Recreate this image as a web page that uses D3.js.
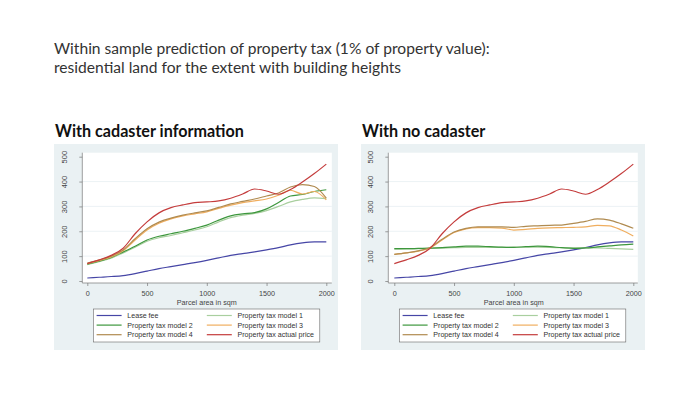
<!DOCTYPE html>
<html>
<head>
<meta charset="utf-8">
<script src="https://cdn.jsdelivr.net/npm/d3@7"></script>
<style>
  body { margin: 0; background: #fff; }
  svg { display: block; }
</style>
</head>
<body>
<div id="chart"></div>
<script>
const width = 700;
const height = 393;

// parcel area (sqm) where the curves were read
const parcelArea = [0, 100, 200, 300, 400, 500, 600, 700, 800, 900, 1000,
    1100, 1200, 1300, 1400, 1500, 1600, 1700, 1800, 1900, 2000];
const xTicks = [0, 500, 1000, 1500, 2000];
const yTicks = [0, 100, 200, 300, 400, 500];
const gridTicks = [100, 200, 300, 400];

// same in both panels
const leaseFee = [12, 15, 18, 22, 30, 40, 50, 58, 66, 74, 83, 93, 103, 110, 117, 125, 134, 145, 153, 157, 157];
const actualPrice = [70, 85, 103, 132, 190, 238, 274, 295, 306, 315, 318, 322, 333, 350, 370, 362, 349, 368, 398, 432, 470];

// with cadaster information
const cadModel1 = [66, 78, 92, 113, 136, 160, 174, 183, 194, 205, 218, 238, 255, 265, 272, 283, 300, 318, 328, 334, 331];
const cadModel2 = [68, 80, 95, 117, 140, 165, 180, 190, 200, 212, 225, 245, 262, 270, 275, 290, 316, 342, 348, 360, 367];
const cadModel3 = [70, 82, 97, 122, 165, 205, 232, 250, 262, 270, 278, 292, 305, 315, 322, 330, 345, 365, 350, 360, 326];
const cadModel4 = [72, 84, 100, 125, 170, 210, 237, 253, 265, 274, 282, 296, 310, 320, 330, 342, 354, 378, 388, 380, 333];

// with no cadaster
const noCadModel1 = [128, 129, 130, 131, 132, 134, 135, 135, 135, 135, 136, 136, 136, 135, 134, 133, 133, 133, 131, 129, 127];
const noCadModel2 = [130, 130, 131, 132, 134, 137, 140, 140, 138, 136, 135, 138, 140, 138, 134, 131, 133, 137, 141, 145, 148];
const noCadModel3 = [107, 113, 120, 133, 165, 195, 210, 215, 215, 213, 205, 208, 212, 214, 215, 216, 218, 224, 222, 205, 181];
const noCadModel4 = [107, 113, 121, 135, 168, 197, 212, 218, 218, 218, 216, 220, 222, 224, 225, 232, 240, 250, 245, 230, 212];

const seriesNames = ['Lease fee', 'Property tax model 1', 'Property tax model 2',
    'Property tax model 3', 'Property tax model 4', 'Property tax actual price'];
const seriesColors = ['#4646a6', '#a9cf9f', '#3d973d', '#f0ae5f', '#b08b50', '#c43c3c'];

const svg = d3.select('#chart')
    .append('svg')
    .attr('width', width)
    .attr('height', height)
    .attr('viewBox', `0 0 ${width} ${height}`);

// shrink/grow a text until it is as wide as the slide shows it
function fitText(sel, target) {
    const w = sel.node().getComputedTextLength();
    const fs = parseFloat(sel.style('font-size'));
    sel.style('font-size', (fs * target / w) + 'px');
}

const title1 = svg.append('text')
    .attr('x', 54).attr('y', 54)
    .style('font-family', 'Lato, "Open Sans", sans-serif')
    .style('font-weight', 400)
    .style('font-size', '19px')
    .style('fill', '#333')
    .text('Within sample prediction of property tax (1% of property value):');
fitText(title1, 436);

svg.append('text')
    .attr('x', 54).attr('y', 73)
    .style('font-family', 'Lato, "Open Sans", sans-serif')
    .style('font-weight', 400)
    .style('font-size', title1.style('font-size'))
    .style('fill', '#333')
    .text('residential land for the extent with building heights');

const panels = [
    { title: 'With cadaster information', left: 54, plotLeft: 82.3, x0: 87.3,
      series: [leaseFee, cadModel1, cadModel2, cadModel3, cadModel4, actualPrice] },
    { title: 'With no cadaster', left: 361, plotLeft: 388.3, x0: 394.3,
      series: [leaseFee, noCadModel1, noCadModel2, noCadModel3, noCadModel4, actualPrice] }
];

let subSize = null;
panels.forEach(p => {
    const sub = svg.append('text')
        .attr('x', p.left + 1).attr('y', 137)
        .style('font-family', 'Lato, "Open Sans", sans-serif')
        .style('font-weight', 'bold')
        .style('font-size', '14px')
        .style('fill', '#111')
        .text(p.title);
    if (subSize === null) {
        fitText(sub, 189);
        subSize = sub.style('font-size');
    } else {
        sub.style('font-size', subSize);
    }
    drawPanel(p);
});

function drawPanel(p) {
    const top = 152.7;
    const bottom = 283;
    const plotRight = p.plotLeft + 249.5;

    const g = svg.append('g')
        .style('font-family', '"Liberation Sans", Arial, sans-serif');

    g.append('rect')
        .attr('x', p.left).attr('y', 144)
        .attr('width', 284).attr('height', 206)
        .attr('fill', '#eaf1f3');

    g.append('rect')
        .attr('x', p.plotLeft).attr('y', top)
        .attr('width', plotRight - p.plotLeft).attr('height', bottom - top)
        .attr('fill', '#ffffff');

    const xScale = d3.scaleLinear().domain([0, 2000]).range([p.x0, p.x0 + 239]);
    const yScale = d3.scaleLinear().domain([0, 500]).range([281, 156.7]);

    // grid
    g.append('g')
        .selectAll('line')
        .data(gridTicks)
        .join('line')
        .attr('x1', p.plotLeft).attr('x2', plotRight)
        .attr('y1', d => yScale(d)).attr('y2', d => yScale(d))
        .attr('stroke', '#e7eff2')
        .attr('stroke-width', 0.8);

    // y axis
    const yAxis = d3.axisLeft(yScale).tickValues(yTicks).tickSize(3).tickFormat(d3.format('d'));
    const ya = g.append('g')
        .attr('transform', `translate(${p.plotLeft}, 0)`)
        .call(yAxis);
    ya.select('.domain').remove();
    ya.selectAll('line').attr('stroke', '#777').attr('stroke-width', 0.7);
    ya.selectAll('text')
        .attr('x', null).attr('dy', null)
        .attr('text-anchor', 'middle')
        .attr('transform', 'translate(-15.8, 0) rotate(-90)')
        .style('font-size', '7.5px')
        .style('fill', '#444');
    g.append('line')
        .attr('x1', p.plotLeft).attr('x2', p.plotLeft)
        .attr('y1', top).attr('y2', bottom)
        .attr('stroke', '#777').attr('stroke-width', 0.7);

    // x axis
    const xAxis = d3.axisBottom(xScale).tickValues(xTicks).tickSize(3).tickPadding(5)
        .tickFormat(d3.format('d'));
    const xa = g.append('g')
        .attr('transform', `translate(0, ${bottom})`)
        .call(xAxis);
    xa.select('.domain').remove();
    xa.selectAll('line').attr('stroke', '#777').attr('stroke-width', 0.7);
    xa.selectAll('text')
        .style('font-size', '7.2px')
        .style('fill', '#444');
    g.append('line')
        .attr('x1', p.plotLeft).attr('x2', plotRight)
        .attr('y1', bottom).attr('y2', bottom)
        .attr('stroke', '#777').attr('stroke-width', 0.7);

    g.append('text')
        .attr('x', xScale(1000)).attr('y', 304.5)
        .attr('text-anchor', 'middle')
        .style('font-size', '7.2px')
        .style('fill', '#444')
        .text('Parcel area in sqm');

    const line = d3.line()
        .x((d, i) => xScale(parcelArea[i]))
        .y(d => yScale(d))
        .curve(d3.curveMonotoneX);

    p.series.forEach((values, k) => {
        g.append('path')
            .datum(values)
            .attr('d', line)
            .attr('fill', 'none')
            .attr('stroke', seriesColors[k])
            .attr('stroke-width', 1.2);
    });

    // legend
    const legX = p.plotLeft + 11;
    const legY = 309;
    g.append('rect')
        .attr('x', legX).attr('y', legY)
        .attr('width', 226.5).attr('height', 33)
        .attr('fill', '#fff')
        .attr('stroke', '#666')
        .attr('stroke-width', 0.6);

    const items = g.append('g')
        .selectAll('g')
        .data(seriesNames)
        .join('g')
        .attr('transform', (d, i) =>
            `translate(${legX + (i % 2) * 110.2}, ${legY + 6.5 + Math.floor(i / 2) * 9.6})`);
    items.append('line')
        .attr('x1', 3.3).attr('x2', 28.3)
        .attr('y1', 0).attr('y2', 0)
        .attr('stroke', (d, i) => seriesColors[i])
        .attr('stroke-width', 1.2);
    items.append('text')
        .attr('x', 34).attr('y', 2.6)
        .style('font-size', '7.1px')
        .style('fill', '#333')
        .text(d => d);
}
</script>
</body>
</html>
